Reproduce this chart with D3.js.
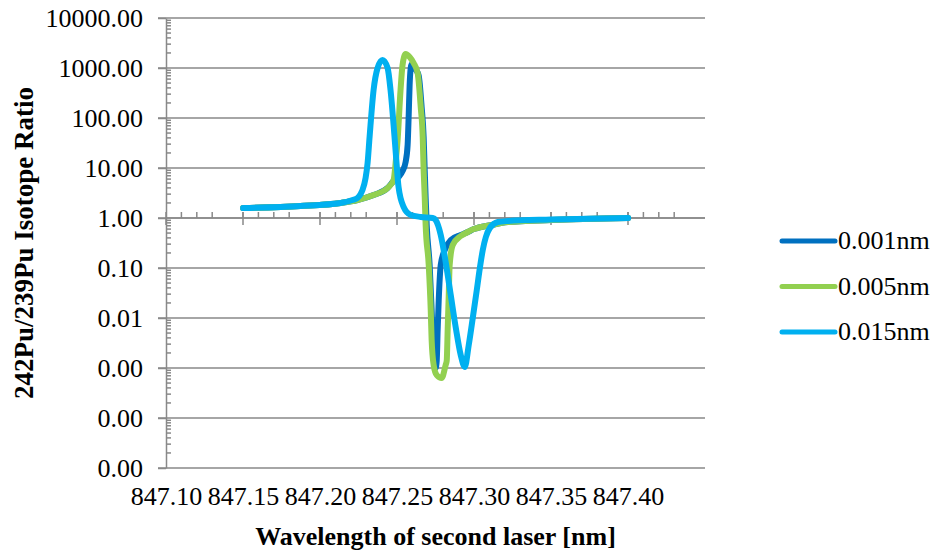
<!DOCTYPE html>
<html>
<head>
<meta charset="utf-8">
<style>
body { margin: 0; background: #fff; }
text { font-family: "Liberation Serif", "Times New Roman", serif; fill: #000; }
.axis .domain, .axis line, .grid line { stroke: #898989; stroke-width: 1.5; }
</style>
</head>
<body>
<svg id="chart" width="938" height="554"></svg>
<script src="https://d3js.org/d3.v7.min.js"></script>
<script>

// tick labels
var xTicks = [847.10, 847.15, 847.20, 847.25, 847.30, 847.35, 847.40];
var yTicks = [10000, 1000, 100, 10, 1, 0.1, 0.01, 0.001, 0.0001, 0.00001];

var seriesNames = ["0.001nm", "0.005nm", "0.015nm"];
var seriesColors = ["#0070c0", "#92d050", "#00b0f0"];

// 0.001nm
var wl001 = [847.1501, 847.1872, 847.2133, 847.2243, 847.2348, 847.2439, 847.2478, 847.2510, 847.2536, 847.2556,
  847.2569, 847.2576, 847.2582, 847.2589, 847.2595, 847.2608, 847.2621, 847.2641, 847.2660, 847.2673,
  847.2680, 847.2686, 847.2693, 847.2712, 847.2725, 847.2732, 847.2745, 847.2751, 847.2758, 847.2764,
  847.2771, 847.2784, 847.2810, 847.2849, 847.2914, 847.2960, 847.2999, 847.3109, 847.3220, 847.3500, 847.4001];
var ratio001 = [1.58, 1.74, 2.0, 2.29, 2.88, 3.98, 5.5, 6.6, 8.7, 13.2,
  28.8, 115, 457, 1000, 1202, 1150, 950, 700, 166, 41.7,
  9.1, 2.63, 0.72, 0.115, 0.0145, 0.0036, 0.00115, 0.001, 0.0014, 0.0058,
  0.0229, 0.115, 0.229, 0.363, 0.457, 0.525, 0.60, 0.72, 0.83, 0.91, 1.0];

// 0.005nm
var wl005 = [847.1501, 847.1872, 847.2133, 847.2243, 847.2348, 847.2439, 847.2478, 847.2491, 847.2504, 847.2523,
  847.2536, 847.2556, 847.2582, 847.2608, 847.2634, 847.2654, 847.2667, 847.2673, 847.2680, 847.2686,
  847.2706, 847.2719, 847.2725, 847.2738, 847.2758, 847.2790, 847.2816, 847.2823, 847.2829, 847.2836,
  847.2842, 847.2862, 847.2914, 847.2960, 847.2999, 847.3109, 847.3220, 847.3500, 847.4001];
var ratio005 = [1.58, 1.74, 2.0, 2.29, 2.88, 3.98, 5.75, 12.6, 36.3, 363,
  1148, 1905, 1660, 1259, 794, 166, 41.7, 9.1, 2.63, 0.72,
  0.115, 0.0145, 0.0036, 0.00115, 0.00072, 0.00063, 0.00115, 0.0014, 0.0058, 0.0288,
  0.115, 0.288, 0.437, 0.525, 0.60, 0.72, 0.83, 0.91, 1.0];

// 0.015nm
var wl015 = [847.1501, 847.1872, 847.2133, 847.2211, 847.2243, 847.2263, 847.2276, 847.2296, 847.2309, 847.2322,
  847.2348, 847.2374, 847.2406, 847.2439, 847.2458, 847.2478, 847.2497, 847.2510, 847.2543, 847.2589,
  847.2654, 847.2732, 847.2751, 847.2784, 847.2816, 847.2849, 847.2882, 847.2914, 847.2940, 847.2966,
  847.2992, 847.3018, 847.3038, 847.3057, 847.3077, 847.3103, 847.3155, 847.3220, 847.3500, 847.4001];
var ratio015 = [1.58, 1.74, 2.0, 2.29, 2.51, 3.0, 3.63, 6.3, 12.6, 41.7,
  363, 1000, 1445, 1000, 363, 72, 12.6, 4.17, 1.66, 1.15,
  1.05, 1.0, 0.91, 0.457, 0.132, 0.0288, 0.0063, 0.0018, 0.00105, 0.0029,
  0.01, 0.036, 0.1, 0.229, 0.417, 0.63, 0.83, 0.87, 0.93, 1.0];

var series = [d3.zip(wl001, ratio001), d3.zip(wl005, ratio005), d3.zip(wl015, ratio015)];

var serif = "'Liberation Serif', 'Times New Roman', serif";

var svg = d3.select("#chart"),
    margin = {top: 18, right: 233, bottom: 86, left: 166},
    width = +svg.attr("width") - margin.left - margin.right,
    height = +svg.attr("height") - margin.top - margin.bottom,
    g = svg.append("g").attr("transform", "translate(" + margin.left + "," + margin.top + ")");

var x = d3.scaleLinear()
    .domain([847.10, 847.45])
    .range([0, width]);

var y = d3.scaleLog()
    .domain([0.00001, 10000])
    .range([height, 0]);

// horizontal gridlines
g.append("g")
    .attr("class", "grid")
  .selectAll("line")
  .data(yTicks)
  .enter().append("line")
    .attr("x1", -8)
    .attr("x2", width)
    .attr("y1", function(d) { return y(d); })
    .attr("y2", function(d) { return y(d); });

// y axis
var yAxis = g.append("g")
    .attr("class", "axis")
    .call(d3.axisLeft(y).tickValues(yTicks).tickFormat(d3.format(".2f")).tickSize(8).tickPadding(15).tickSizeOuter(0));
yAxis.selectAll("text")
    .style("font-size", "26px")
    .style("font-family", serif);

// log minor ticks on the inside
var yMinor = [];
for (var e = -5; e < 4; e++) {
  for (var k = 2; k < 10; k++) yMinor.push(k * Math.pow(10, e));
}
g.append("g")
    .attr("class", "grid")
  .selectAll("line")
  .data(yMinor)
  .enter().append("line")
    .attr("x1", 0)
    .attr("x2", 5)
    .attr("y1", function(d) { return y(d); })
    .attr("y2", function(d) { return y(d); });

// x axis crosses at ratio 1
var xAxisG = g.append("g")
    .attr("class", "axis")
    .attr("transform", "translate(0," + y(1) + ")");
xAxisG.append("line")
    .attr("x1", 0).attr("x2", width);
var xMinor = d3.range(11, 45).map(function(i) { return 847 + i / 100; })
    .filter(function(d, i) { return (i + 1) % 5 !== 4; });
xAxisG.selectAll(".minor")
  .data(xMinor)
  .enter().append("line")
    .attr("class", "minor")
    .attr("x1", function(d) { return x(d); })
    .attr("x2", function(d) { return x(d); })
    .attr("y1", -6).attr("y2", 0);
xAxisG.selectAll(".major")
  .data(xTicks)
  .enter().append("line")
    .attr("class", "major")
    .attr("x1", function(d) { return x(d); })
    .attr("x2", function(d) { return x(d); })
    .attr("y1", -6).attr("y2", 7);

// x labels sit below the plot
var xLabels = g.append("g")
    .attr("transform", "translate(0," + height + ")")
    .call(d3.axisBottom(x).tickValues(xTicks).tickFormat(d3.format(".2f")).tickSize(0));
xLabels.select(".domain").remove();
xLabels.selectAll("text")
    .attr("y", 37)
    .attr("dy", 0)
    .style("font-size", "26px")
    .style("font-family", serif);

// lines
var line = d3.line()
    .x(function(d) { return x(d[0]); })
    .y(function(d) { return y(d[1]); })
    .curve(d3.curveMonotoneX);

g.selectAll(".series")
  .data(series)
  .enter().append("path")
    .attr("class", "series")
    .attr("fill", "none")
    .attr("stroke", function(d, i) { return seriesColors[i]; })
    .attr("stroke-width", 6)
    .attr("stroke-linecap", "round")
    .attr("stroke-linejoin", "round")
    .attr("d", line);

// titles
svg.append("text")
    .attr("x", margin.left + width / 2)
    .attr("y", 545)
    .attr("text-anchor", "middle")
    .style("font-family", serif)
    .style("font-size", "26px")
    .style("font-weight", "bold")
    .text("Wavelength of second laser [nm]");

svg.append("text")
    .attr("transform", "translate(33," + (margin.top + height / 2) + ") rotate(-90)")
    .attr("text-anchor", "middle")
    .style("font-family", serif)
    .style("font-size", "27px")
    .style("font-weight", "bold")
    .text("242Pu/239Pu Isotope Ratio");

// legend
var legend = svg.append("g")
    .attr("transform", "translate(782,241)")
  .selectAll("g")
  .data(seriesNames)
  .enter().append("g")
    .attr("transform", function(d, i) { return "translate(0," + (i * 45.5) + ")"; });
legend.append("line")
    .attr("x1", 0).attr("x2", 53)
    .attr("stroke", function(d, i) { return seriesColors[i]; })
    .attr("stroke-width", 5)
    .attr("stroke-linecap", "round");
legend.append("text")
    .attr("x", 56)
    .attr("dy", "0.32em")
    .style("font-family", serif)
    .style("font-size", "26px")
    .text(function(d) { return d; });

</script>
</body>
</html>
